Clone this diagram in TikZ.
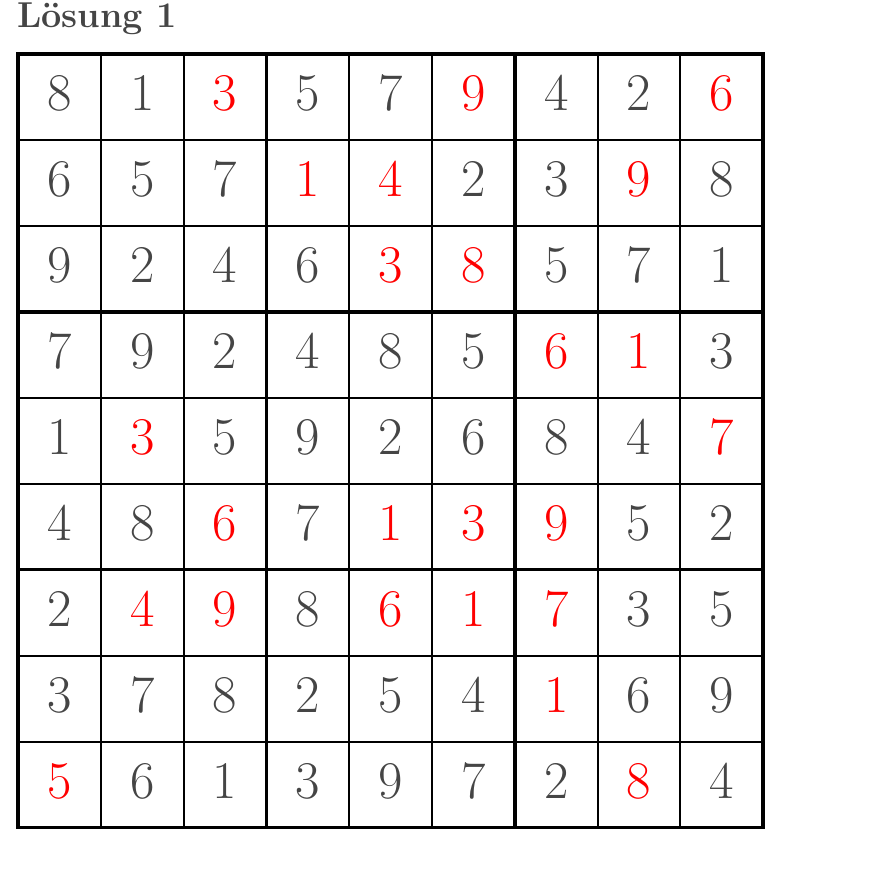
\documentclass[tikz,border=0pt]{standalone}
\usepackage{fontspec}
\colorlet{digitgray}{black!73}
\begin{document}
\begin{tikzpicture}[x=1pt,y=-1pt,
    num/.style={anchor=base,inner sep=0pt,font=\fontsize{53}{60}\selectfont,text=digitgray},
    hint/.style={num,text=red}]
    \useasboundingbox (0,0) rectangle (892,877);
    \node[anchor=base west,inner sep=0pt,font=\fontsize{36}{40}\selectfont\bfseries,text=digitgray] (title) at (17,28) {Lösung 1};
    \begin{scope}[shift={(18,54)},x=82.8pt,y=-85.94pt]
        \foreach \i in {1,...,8} {
            \draw [line width=2pt] (\i,0) -- (\i,9);
            \draw [line width=2pt] (0,\i) -- (9,\i);
        }
        \foreach \i in {3,6} {
            \draw [line width=3.4pt] (\i,0) -- (\i,9);
            \draw [line width=3.4pt] (0,\i) -- (9,\i);
        }
        \draw [line width=3.6pt] (0,0) rectangle (9,9);
        \foreach \row [count=\r] in {
            {8/num,1/num,3/hint,5/num,7/num,9/hint,4/num,2/num,6/hint},
            {6/num,5/num,7/num,1/hint,4/hint,2/num,3/num,9/hint,8/num},
            {9/num,2/num,4/num,6/num,3/hint,8/hint,5/num,7/num,1/num},
            {7/num,9/num,2/num,4/num,8/num,5/num,6/hint,1/hint,3/num},
            {1/num,3/hint,5/num,9/num,2/num,6/num,8/num,4/num,7/hint},
            {4/num,8/num,6/hint,7/num,1/hint,3/hint,9/hint,5/num,2/num},
            {2/num,4/hint,9/hint,8/num,6/hint,1/hint,7/hint,3/num,5/num},
            {3/num,7/num,8/num,2/num,5/num,4/num,1/hint,6/num,9/num},
            {5/hint,6/num,1/num,3/num,9/num,7/num,2/num,8/hint,4/num}} {
            \foreach \d/\k [count=\c] in \row
                \node [\k,yshift=-14pt] (c\r\c) at (\c-0.5,\r-0.5) {\d};
        }
    \end{scope}
\end{tikzpicture}
\end{document}
